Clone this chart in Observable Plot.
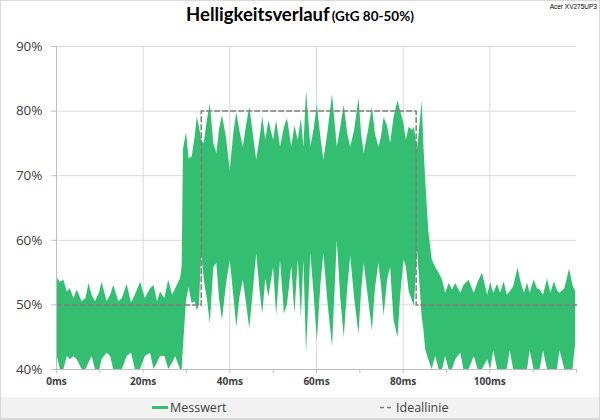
<!DOCTYPE html>
<html><head><meta charset="utf-8">
<script src="https://cdn.jsdelivr.net/npm/d3@7"></script>
<script src="https://cdn.jsdelivr.net/npm/@observablehq/plot@0.6"></script>
<style>
body{margin:0;background:#fff;}
#wrap{position:relative;width:600px;height:420px;overflow:hidden;background:#fff;}
#titlebar{position:relative;height:36px;}
#title{position:absolute;left:0;width:600px;top:3px;text-align:center;font-family:Lato,"Open Sans",sans-serif;font-weight:bold;color:#000;white-space:nowrap;}
#title .main{font-size:18.5px;}
#title .sub{font-size:13.5px;margin-left:2px;}
#model{position:absolute;right:3px;top:3px;font-family:"Liberation Sans",Arial,sans-serif;font-size:6.5px;color:#000;}
#chart svg{display:block;}
#legend{position:absolute;left:0;top:397px;width:600px;height:21px;background:#f2f2f2;border-bottom:1px solid #d9d9d9;font-family:"Open Sans",sans-serif;font-size:12.5px;color:#404040;}
.lg{position:absolute;top:1px;line-height:20px;}
.sw{position:absolute;top:10px;height:0;}
#frame{position:absolute;left:0;top:0;width:598px;height:418px;border:1px solid #d9d9d9;pointer-events:none;}
</style></head>
<body>
<div id="wrap">
  <div id="titlebar">
    <div id="title"><span class="main">Helligkeitsverlauf</span><span class="sub">(GtG 80-50%)</span></div>
    <div id="model">Acer XV275UP3</div>
  </div>
  <div id="chart"></div>
  <div id="legend">
    <div class="sw" style="left:152px;width:16px;border-top:3px solid #34be71;top:9px"></div>
    <div class="lg" style="left:170px">Messwert</div>
    <svg style="position:absolute;left:380px;top:9px" width="14" height="3"><line x1="0" y1="1.5" x2="14" y2="1.5" stroke="#7f7f7f" stroke-width="1.5" stroke-dasharray="4,3"/></svg>
    <div class="lg" style="left:396px">Ideallinie</div>
  </div>
  <div id="frame"></div>
</div>
<script>
// time (ms) of envelope key points of the measured signal
const tms = [0,0.9,1.7,2.5,3.2,4.0,4.8,5.9,6.8,7.5,8.2,9.0,10.0,10.5,11.7,12.5,13.2,14.4,15.2,16.3,17.3,18.2,19.4,20.5,21.7,22.5,23.3,24.0,25.0,25.9,26.8,27.5,28.6,29.0,
 29.3,30.0,30.6,31.3,32.0,32.5,33.0,33.5,34.1,34.8,35.5,36.3,37.0,37.6,38.3,39.2,40.1,40.9,41.6,42.3,43.1,43.8,44.6,45.4,46.2,47.0,47.6,48.3,49.0,
 50.1,50.8,51.7,52.6,53.3,54.3,55.0,55.8,56.5,57.1,57.7,58.7,59.4,60.2,61.0,61.7,62.7,63.7,64.8,65.6,66.4,67.2,67.9,68.8,69.8,70.4,71.0,72.0,72.9,73.6,74.4,75.0,75.6,
 76.4,77.1,77.9,78.8,79.4,80.2,80.7,81.4,82.2,82.6,83.3,83.9,84.4,84.8,85.2,85.9,86.7,
 87.5,88.3,89.1,89.8,90.6,91.4,92.1,93.3,94.0,95.2,96.4,97.3,98.3,99.5,100.2,100.9,101.8,102.5,103.3,104.0,104.7,105.5,106.5,107.2,108.0,108.7,109.3,110.2,111.0,111.6,112.4,113.3,114.1,114.9,115.6,116.2,117.3,118.4,119.2,119.8];
// upper envelope (%)
const hi = [54.3,53.5,53.8,52.0,52.5,51.0,52.3,50.5,51.0,53.3,51.5,50.5,52.0,53.5,50.5,51.5,53.0,50.5,51.0,53.2,50.3,51.5,53.5,51.0,52.5,53.0,50.5,52.0,51.0,53.8,51.5,52.5,54.0,56.0,
 74.0,76.7,72.6,72.9,76.0,79.1,77.5,75.4,75.0,78.5,81.1,75.0,73.4,77.0,79.3,76.0,70.8,76.5,79.8,77.0,74.4,77.5,80.6,76.5,72.4,76.0,79.1,75.5,78.5,
 75.5,78.5,74.4,77.5,78.8,74.4,77.7,75.5,78.8,74.4,83.2,74.4,77.0,81.0,76.0,72.4,77.0,82.6,74.4,77.5,80.9,76.5,74.4,77.0,82.0,76.5,73.4,77.0,80.6,76.5,74.4,76.0,79.0,
 77.7,75.0,79.0,81.6,80.0,78.0,75.5,77.5,77.0,77.5,74.0,78.0,81.5,74.4,69.3,61.5,57.0,
 55.8,54.9,53.8,51.8,53.3,52.3,53.3,51.8,53.0,53.8,51.8,53.5,54.9,51.5,53.4,51.8,53.2,51.8,53.6,51.5,52.0,52.8,55.7,53.5,51.8,53.4,51.8,53.8,52.5,52.3,51.5,54.0,51.8,53.6,52.2,51.8,52.5,55.5,53.0,52.0];
// lower envelope (%)
const lo = [42.5,40,40,42.0,41.5,42.0,41.5,40,40,41.0,42.0,40,40,41.5,42.5,42.0,40,40,40,42.0,42.5,40,40,42.0,42.5,40,41.0,42.0,42.0,40,41.0,42.0,40,40,
 43.5,50.7,52.7,50.2,50.5,49.1,50.0,58.0,53.8,51.0,47.1,55.8,56.4,51.0,47.6,53.0,56.9,51.5,46.5,51.0,53.8,50.5,46.3,52.0,57.9,52.0,48.6,54.0,51.2,
 55.8,48.3,56.9,48.6,50.0,56.0,48.6,56.9,48.0,56.9,42.5,57.9,52.0,44.4,53.0,57.9,50.0,43.5,59.9,51.0,44.9,52.5,57.5,51.0,45.4,52.0,56.4,51.0,46.0,52.5,56.4,53.0,48.3,
 53.8,55.8,47.6,44.9,51.2,57.0,56.0,52.0,50.5,49.8,58.5,53.0,48.0,46.0,43.0,41.5,40,
 42.0,40,40,42.0,40,40,41.5,42.5,40,40,42.0,40,40,41.5,40,42.9,40,40,40,40,42.9,40,40,40,40,40,42.9,40,40,40,42.9,40,40,40,40,42.9,40,40,40,44.0];

// ideal line
const idealT = [0,33.4,33.4,83.0,83.0,120];
const idealV = [50,50,80,80,50,50];

// axis ticks
const yTicks = [40,50,60,70,80,90];
const xTicks = [0,20,40,60,80,100];
const xMinor = [0,10,20,30,40,50,60,70,80,90,100,110,120];

const sig = tms.map((t,i)=>({t, hi:hi[i], lo:lo[i]}));
const ideal = idealT.map((t,i)=>({t, v:idealV[i]}));

const chart = Plot.plot({
  width:600, height:360,
  marginLeft:56, marginRight:24, marginTop:10, marginBottom:27,
  x:{domain:[0,120]},
  y:{domain:[40,90]},
  style:{fontFamily:"'Open Sans', sans-serif", color:"#404040", background:"transparent", overflow:"visible"},
  marks:[
    Plot.gridY([50,60,70,80,90], {stroke:"#d9d9d9", strokeOpacity:1}),
    Plot.gridX([20,40,60,80,100], {stroke:"#d9d9d9", strokeOpacity:1}),
    Plot.areaY(sig, {x:"t", y1:"lo", y2:"hi", fill:"#34be71", curve:"linear", clip:true}),
    Plot.line(ideal, {x:"t", y:"v", stroke:"#7f7f7f", strokeWidth:1.5, strokeDasharray:"5,3"}),
    Plot.ruleX([0], {stroke:"#bfbfbf"}),
    Plot.ruleY([40], {stroke:"#bfbfbf"}),
    Plot.axisY(yTicks, {tickSize:5, tickPadding:9, tickFormat:d=>d+"%", fontSize:13.5, stroke:"#bfbfbf", fill:"#404040", label:null}),
    Plot.axisX(xMinor, {tickSize:4, tickFormat:()=>"", stroke:"#bfbfbf", label:null}),
    Plot.axisX(xTicks, {tickSize:0, tickPadding:8, tickFormat:d=>d+"ms", fontSize:10, fontWeight:"bold", fill:"#404040", label:null})
  ]
});
document.getElementById("chart").appendChild(chart);
</script>
</body></html>
